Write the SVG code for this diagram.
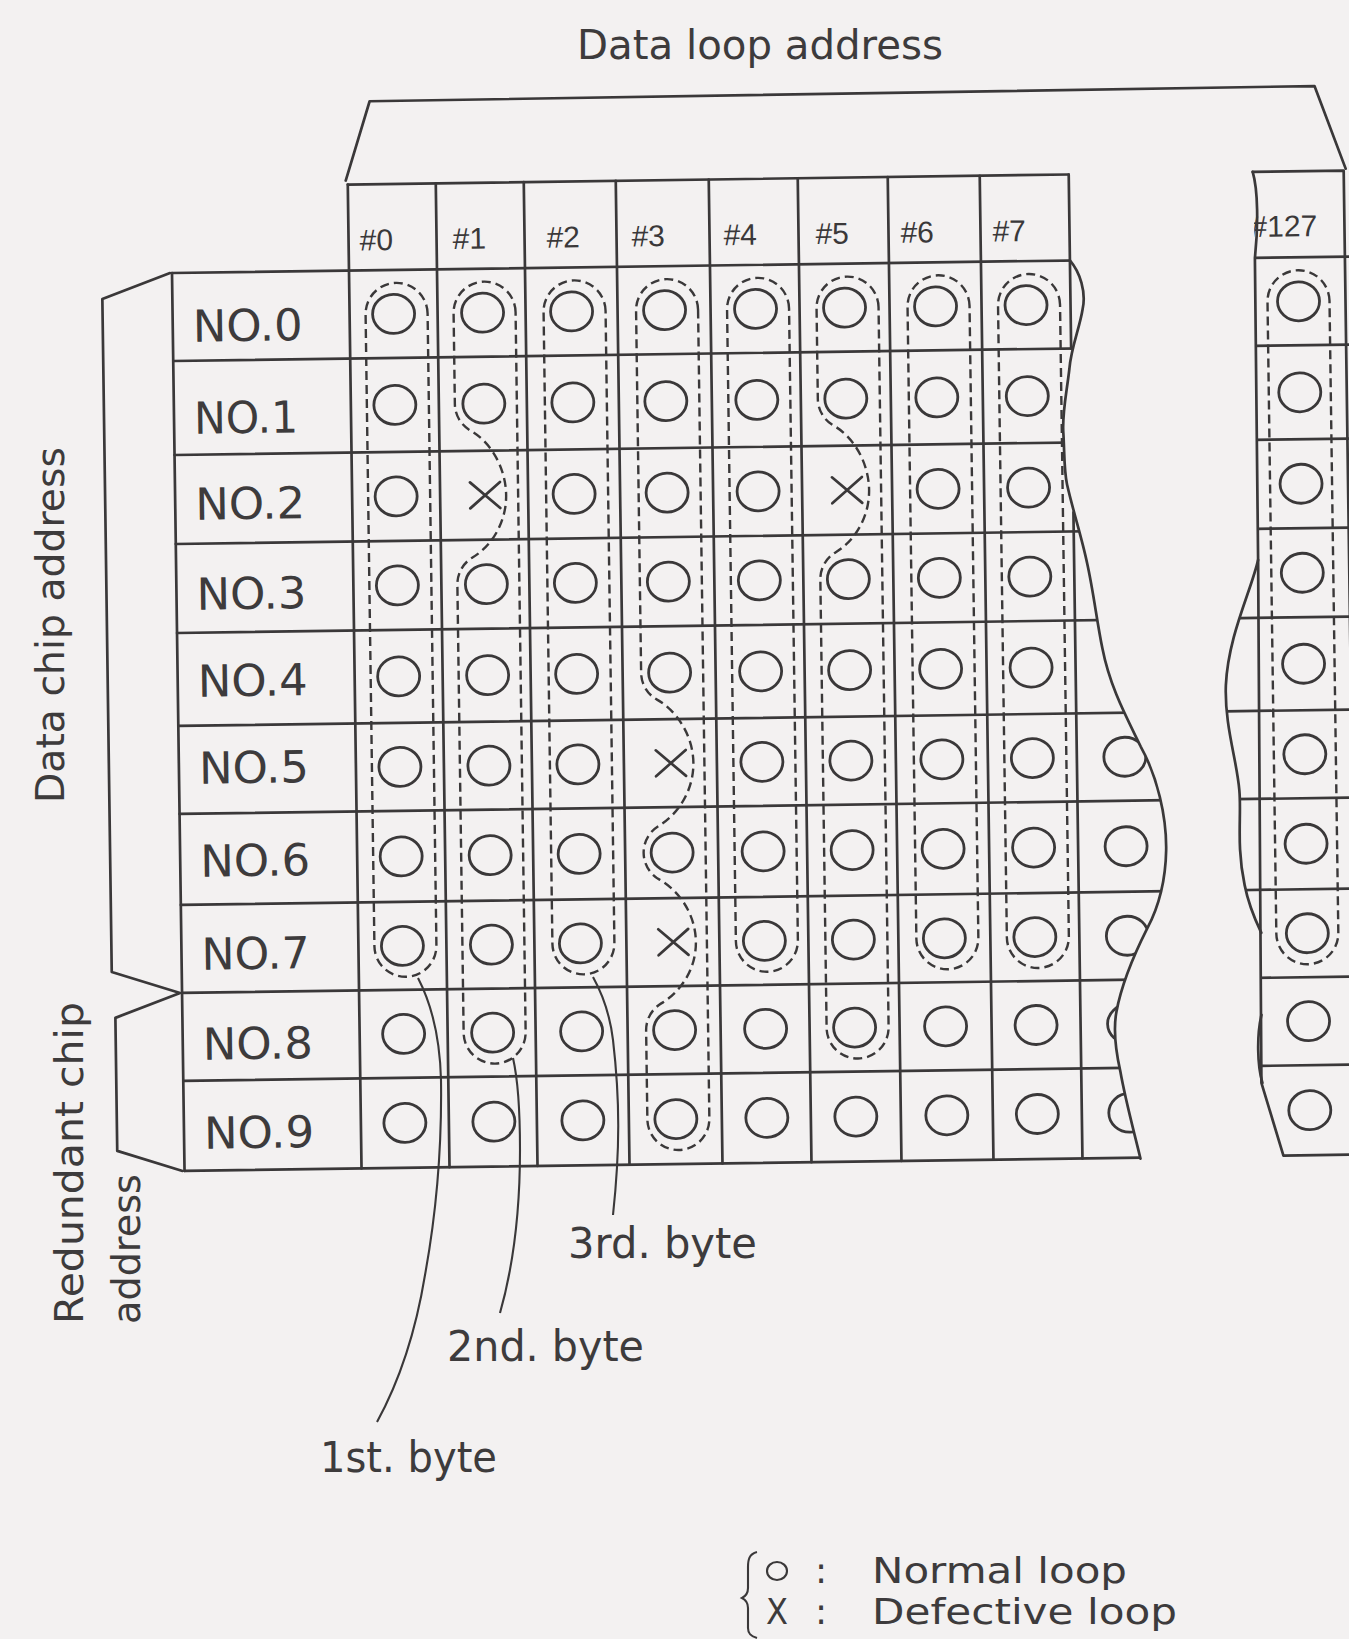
<svg xmlns="http://www.w3.org/2000/svg" xmlns:xlink="http://www.w3.org/1999/xlink" width="1349" height="1639" viewBox="0 0 1349 1639">
<style>
.ln{fill:none;stroke:#3a3839;stroke-width:2.7;stroke-linejoin:round;stroke-linecap:round}
.o{fill:none;stroke:#3a3839;stroke-width:2.8}
.x{fill:none;stroke:#3a3839;stroke-width:2.7;stroke-linecap:round}
.lp{fill:none;stroke:#3a3839;stroke-width:2.4;stroke-dasharray:9 5}
.ld{fill:none;stroke:#3a3839;stroke-width:2.1}
.t{font-family:"DejaVu Sans","Liberation Sans",sans-serif;fill:#3d3b3c}
.hd{font-family:"Liberation Sans",Arial,sans-serif;font-size:30px;fill:#3a3839}
.nl{font-size:44px}
</style>
<defs>
<ellipse id="o" rx="21" ry="19.5" class="o"/>
<clipPath id="mainClip" clipPathUnits="userSpaceOnUse">
<path d="M0,0 H1070 V273 C1080,285 1086,305 1082,322 C1079,340 1070,360 1068,381 C1065,405 1060,425 1061,445 C1062,465 1061,482 1064,497 C1070,525 1078,550 1083,576 C1089,605 1092,635 1097,661 C1104,700 1120,730 1134,760 C1150,790 1159,830 1158,864 C1157,895 1150,920 1138,942 C1126,965 1112,995 1106,1025 C1103,1040 1104,1060 1109,1084 C1114,1115 1122,1145 1128,1172 V1300 H0 Z"/>
</clipPath>
<clipPath id="c127Clip" clipPathUnits="userSpaceOnUse">
<path d="M1254,180 L1255,273 L1254,575 C1247,605 1223,650 1220,700 C1218,740 1230,775 1232,805 C1234,830 1228,860 1236,900 C1240,922 1247,937 1252,948 L1250,1098 L1271,1171 L1420,1171 L1420,180 Z"/>
</clipPath>
</defs>
<rect x="0" y="0" width="1349" height="1639" fill="#f3f1f1"/>

<g id="figure" transform="rotate(-0.8 173 273)">
  <g id="brackets">
    <path class="ln" d="M347,183 L372,104 L1317,102 L1347,185"/>
    <path class="ln" d="M170,273 L102,298 L102,971 L170,993 L105,1017 L105,1150 L170,1171"/>
  </g>

  <g id="header">
    <path class="ln" d="M349,187 H1070"/>
    <text class="hd" x="360" y="253">#0</text>
    <text class="hd" x="453" y="253">#1</text>
    <text class="hd" x="547" y="253">#2</text>
    <text class="hd" x="632" y="253">#3</text>
    <text class="hd" x="724" y="253">#4</text>
    <text class="hd" x="816" y="253">#5</text>
    <text class="hd" x="901" y="253">#6</text>
    <text class="hd" x="993" y="253">#7</text>
  </g>

  <g id="grid">
    <g clip-path="url(#mainClip)">
      <path class="ln" d="M172,273 H1200 M172,361 H1200 M172,455 H1200 M172,544 H1200 M172,633 H1200 M172,726 H1200 M172,814 H1200 M172,905 H1200 M172,993 H1200 M172,1081 H1200 M172,1171 H1200"/>
      <use href="#o" x="1118" y="770"/>
      <use href="#o" x="1118" y="859.5"/>
      <use href="#o" x="1118" y="949"/>
      <use href="#o" x="1118" y="1037"/>
      <use href="#o" x="1118" y="1126"/>
    </g>
    <path class="ln" d="M172,273 V1171 M349,187 V1171 M437,187 V1171 M525,187 V1171 M617,187 V1171 M710,187 V1171 M799,187 V1171 M889,187 V1171 M981,187 V1171 M1070,187 V361 M1070,525 V1171"/>
    <path class="ln" d="M1070,273 C1080,285 1086,305 1082,322 C1079,340 1070,360 1068,381 C1065,405 1060,425 1061,445 C1062,465 1061,482 1064,497 C1070,525 1078,550 1083,576 C1089,605 1092,635 1097,661 C1104,700 1120,730 1134,760 C1150,790 1159,830 1158,864 C1157,895 1150,920 1138,942 C1126,965 1112,995 1106,1025 C1103,1040 1104,1060 1109,1084 C1114,1115 1122,1145 1128,1172"/>
  </g>

  <g id="row-labels" class="t nl">
    <text x="192" y="342" textLength="110" lengthAdjust="spacingAndGlyphs">NO.0</text>
    <text x="192" y="434" textLength="104" lengthAdjust="spacingAndGlyphs">NO.1</text>
    <text x="192" y="520" textLength="110" lengthAdjust="spacingAndGlyphs">NO.2</text>
    <text x="192" y="610" textLength="110" lengthAdjust="spacingAndGlyphs">NO.3</text>
    <text x="192" y="697" textLength="110" lengthAdjust="spacingAndGlyphs">NO.4</text>
    <text x="192" y="784" textLength="110" lengthAdjust="spacingAndGlyphs">NO.5</text>
    <text x="192" y="877" textLength="110" lengthAdjust="spacingAndGlyphs">NO.6</text>
    <text x="192" y="970" textLength="108" lengthAdjust="spacingAndGlyphs">NO.7</text>
    <text x="192" y="1060" textLength="110" lengthAdjust="spacingAndGlyphs">NO.8</text>
    <text x="192" y="1149" textLength="110" lengthAdjust="spacingAndGlyphs">NO.9</text>
  </g>

  <g id="cells">
    <g id="col0"><use href="#o" x="393" y="317"/><use href="#o" x="393" y="408"/><use href="#o" x="393" y="499.5"/><use href="#o" x="393" y="588.5"/><use href="#o" x="393" y="679.5"/><use href="#o" x="393" y="770"/><use href="#o" x="393" y="859.5"/><use href="#o" x="393" y="949"/><use href="#o" x="393" y="1037"/><use href="#o" x="393" y="1126"/></g>
    <g id="col1"><use href="#o" x="482" y="317"/><use href="#o" x="482" y="408"/><path class="x" d="M467,486.5 L497,512.5 M497,486.5 L467,512.5"/><use href="#o" x="482" y="588.5"/><use href="#o" x="482" y="679.5"/><use href="#o" x="482" y="770"/><use href="#o" x="482" y="859.5"/><use href="#o" x="482" y="949"/><use href="#o" x="482" y="1037"/><use href="#o" x="482" y="1126"/></g>
    <g id="col2"><use href="#o" x="571" y="317"/><use href="#o" x="571" y="408"/><use href="#o" x="571" y="499.5"/><use href="#o" x="571" y="588.5"/><use href="#o" x="571" y="679.5"/><use href="#o" x="571" y="770"/><use href="#o" x="571" y="859.5"/><use href="#o" x="571" y="949"/><use href="#o" x="571" y="1037"/><use href="#o" x="571" y="1126"/></g>
    <g id="col3"><use href="#o" x="664" y="317"/><use href="#o" x="664" y="408"/><use href="#o" x="664" y="499.5"/><use href="#o" x="664" y="588.5"/><use href="#o" x="664" y="679.5"/><path class="x" d="M649,757 L679,783 M679,757 L649,783"/><use href="#o" x="664" y="859.5"/><path class="x" d="M649,936 L679,962 M679,936 L649,962"/><use href="#o" x="664" y="1037"/><use href="#o" x="664" y="1126"/></g>
    <g id="col4"><use href="#o" x="755" y="317"/><use href="#o" x="755" y="408"/><use href="#o" x="755" y="499.5"/><use href="#o" x="755" y="588.5"/><use href="#o" x="755" y="679.5"/><use href="#o" x="755" y="770"/><use href="#o" x="755" y="859.5"/><use href="#o" x="755" y="949"/><use href="#o" x="755" y="1037"/><use href="#o" x="755" y="1126"/></g>
    <g id="col5"><use href="#o" x="844" y="317"/><use href="#o" x="844" y="408"/><path class="x" d="M829,486.5 L859,512.5 M859,486.5 L829,512.5"/><use href="#o" x="844" y="588.5"/><use href="#o" x="844" y="679.5"/><use href="#o" x="844" y="770"/><use href="#o" x="844" y="859.5"/><use href="#o" x="844" y="949"/><use href="#o" x="844" y="1037"/><use href="#o" x="844" y="1126"/></g>
    <g id="col6"><use href="#o" x="935" y="317"/><use href="#o" x="935" y="408"/><use href="#o" x="935" y="499.5"/><use href="#o" x="935" y="588.5"/><use href="#o" x="935" y="679.5"/><use href="#o" x="935" y="770"/><use href="#o" x="935" y="859.5"/><use href="#o" x="935" y="949"/><use href="#o" x="935" y="1037"/><use href="#o" x="935" y="1126"/></g>
    <g id="col7"><use href="#o" x="1025.5" y="317"/><use href="#o" x="1025.5" y="408"/><use href="#o" x="1025.5" y="499.5"/><use href="#o" x="1025.5" y="588.5"/><use href="#o" x="1025.5" y="679.5"/><use href="#o" x="1025.5" y="770"/><use href="#o" x="1025.5" y="859.5"/><use href="#o" x="1025.5" y="949"/><use href="#o" x="1025.5" y="1037"/><use href="#o" x="1025.5" y="1126"/></g>
  </g>

  <g id="loops">
    <path class="lp" d="M427,317 A31,31 0 0 0 365,317 V949 A31,31 0 0 0 427,949 Z"/>
    <path class="lp" d="M515,317 A31,31 0 0 0 453,317 V408 A31,31 0 0 0 468.5,434.85 C487.6,445.85 503,471.5 503,499.5 C503,527.5 487.55,550.65 468.5,561.65 A31,31 0 0 0 453,588.5 V1037 A31,31 0 0 0 515,1037 Z"/>
    <path class="lp" d="M605,317 A31,31 0 0 0 543,317 V949 A31,31 0 0 0 605,949 Z"/>
    <path class="lp" d="M697.5,317 A31,31 0 0 0 635.5,317 V679.5 A31,31 0 0 0 651,706.35 C670.05,717.35 686.5,742 686.5,770 C686.5,798 670.05,821.65 651,832.65 A31,31 0 0 0 651,886.35 C670.05,897.35 686.5,921 686.5,949 C686.5,977 670.05,999.15 651,1010.15 A31,31 0 0 0 635.5,1037 V1126 A31,31 0 0 0 697.5,1126 Z"/>
    <path class="lp" d="M788.5,317 A31,31 0 0 0 726.5,317 V949 A31,31 0 0 0 788.5,949 Z"/>
    <path class="lp" d="M878,317 A31,31 0 0 0 816,317 V408 A31,31 0 0 0 831.5,434.85 C850.55,445.85 866,471.5 866,499.5 C866,527.5 850.55,550.65 831.5,561.65 A31,31 0 0 0 816,588.5 V1037 A31,31 0 0 0 878,1037 Z"/>
    <path class="lp" d="M969,317 A31,31 0 0 0 907,317 V949 A31,31 0 0 0 969,949 Z"/>
    <path class="lp" d="M1059.5,317 A31,31 0 0 0 997.5,317 V949 A31,31 0 0 0 1059.5,949 Z"/>
  </g>

  <g id="col127">
    <path class="ln" d="M1254,187 H1345 M1345,187 V1200"/>
    <path class="ln" d="M1254,187 C1259,205 1259,240 1255,273 L1254,575 L1250,1098 L1271,1171 H1360"/>
    <path class="ln" d="M1254,575 C1247,605 1223,650 1220,700 C1218,740 1230,775 1232,805 C1234,830 1228,860 1236,900 C1240,922 1247,937 1252,948 M1251,1030 C1246,1050 1246,1080 1251,1098"/>
    <g clip-path="url(#c127Clip)">
      <path class="ln" d="M1200,273 H1360 M1200,361 H1360 M1200,455 H1360 M1200,544 H1360 M1200,633 H1360 M1200,726 H1360 M1200,814 H1360 M1200,905 H1360 M1200,993 H1360 M1200,1081 H1360"/>
      <text class="hd" x="1251" y="252">#127</text>
    </g>
    <use href="#o" x="1298" y="317"/><use href="#o" x="1298" y="408"/><use href="#o" x="1298" y="499.5"/><use href="#o" x="1298" y="588.5"/><use href="#o" x="1298" y="679.5"/><use href="#o" x="1298" y="770"/><use href="#o" x="1298" y="859.5"/><use href="#o" x="1298" y="949"/><use href="#o" x="1298" y="1037"/><use href="#o" x="1298" y="1126"/>
    <path class="lp" d="M1329,317 A31,31 0 0 0 1267,317 V949 A31,31 0 0 0 1329,949 Z"/>
  </g>
</g>

<g id="connectors">
  <path class="ld" d="M418,978 C432,1005 440,1040 441,1080 C442,1150 435,1220 425,1275 C416,1330 400,1380 377,1422"/>
  <path class="ld" d="M513,1058 C518,1080 520,1110 520,1150 C520,1200 515,1260 500,1313"/>
  <path class="ld" d="M593,977 C603,995 610,1015 613,1040 C620,1100 620,1150 613,1215"/>
</g>

<g id="labels" class="t">
  <text x="577" y="59" font-size="40" textLength="366" lengthAdjust="spacingAndGlyphs">Data loop address</text>
  <text transform="translate(64,803) rotate(-90)" font-size="39" textLength="356" lengthAdjust="spacingAndGlyphs">Data chip address</text>
  <text transform="translate(83,1324) rotate(-90)" font-size="39" textLength="322" lengthAdjust="spacingAndGlyphs">Redundant chip</text>
  <text transform="translate(140,1324) rotate(-90)" font-size="39" textLength="150" lengthAdjust="spacingAndGlyphs">address</text>
  <text x="568" y="1258" font-size="42" textLength="189" lengthAdjust="spacingAndGlyphs">3rd. byte</text>
  <text x="447" y="1361" font-size="42" textLength="197" lengthAdjust="spacingAndGlyphs">2nd. byte</text>
  <text x="320" y="1472" font-size="42" textLength="177" lengthAdjust="spacingAndGlyphs">1st. byte</text>
</g>

<g id="legend" class="t">
  <path class="ld" d="M757,1552 C749,1554 748,1560 748,1567 L748,1588 C748,1593 746,1596 742,1598 C746,1600 748,1603 748,1608 L748,1628 C748,1633 750,1636 757,1638"/>
  <ellipse cx="777" cy="1571" rx="10" ry="9" class="ld"/>
  <text x="815" y="1583" font-size="36">:</text>
  <text x="872" y="1583" font-size="36" textLength="255" lengthAdjust="spacingAndGlyphs">Normal loop</text>
  <text x="766" y="1624" font-size="36" textLength="22" lengthAdjust="spacingAndGlyphs">X</text>
  <text x="815" y="1624" font-size="36">:</text>
  <text x="872" y="1624" font-size="36" textLength="305" lengthAdjust="spacingAndGlyphs">Defective loop</text>
</g>
</svg>
